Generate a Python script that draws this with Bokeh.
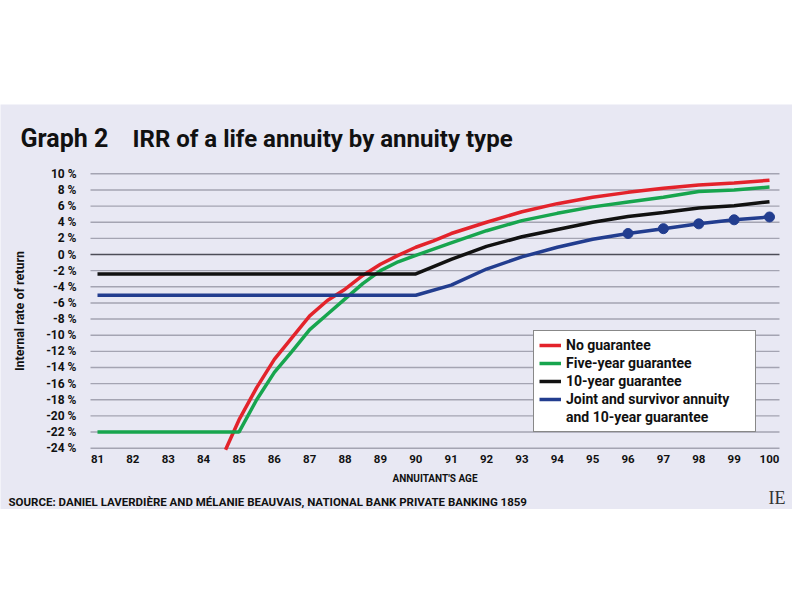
from bokeh.plotting import figure
from bokeh.models import Range1d, FixedTicker, Legend, LegendItem, Label, Spacer, LinearAxis
from bokeh.layouts import column
from bokeh.embed import file_html
from bokeh.resources import INLINE

# ---------------- data ----------------
age_ticks = list(range(81, 101))
pct_ticks = list(range(-24, 11, 2))

ages_red = [84.62, 85, 85.5, 86, 86.5, 87, 87.5, 88, 88.5, 89, 89.5, 90, 90.5,
            91, 92, 93, 94, 95, 96, 97, 98, 99, 100]
irr_red = [-24.2, -20.5, -16.5, -13.0, -10.3, -7.6, -5.7, -4.3, -2.6, -1.2, -0.1, 0.9, 1.7,
           2.6, 4.0, 5.3, 6.3, 7.1, 7.7, 8.2, 8.6, 8.85, 9.2]

ages_green = [81, 85, 85.5, 86, 86.5, 87, 87.5, 88, 88.5, 89, 89.5, 90,
              91, 92, 93, 94, 95, 96, 97, 98, 99, 100]
irr_green = [-22.0, -22.0, -18.0, -14.6, -12.0, -9.3, -7.4, -5.5, -3.6, -2.0, -0.9, -0.1,
             1.45, 2.95, 4.2, 5.1, 5.9, 6.5, 7.1, 7.8, 8.0, 8.35]

ages_black = [81, 90, 91, 92, 93, 94, 95, 96, 97, 98, 99, 100]
irr_black = [-2.4, -2.4, -0.6, 1.0, 2.2, 3.1, 4.0, 4.7, 5.2, 5.75, 6.05, 6.55]

ages_blue = [81, 90, 91, 92, 93, 94, 95, 96, 97, 98, 99, 100]
irr_blue = [-5.05, -5.05, -3.8, -1.8, -0.3, 0.9, 1.9, 2.6, 3.2, 3.8, 4.3, 4.65]
blue_marker_ages = [96, 97, 98, 99, 100]

series_names = ["No guarantee", "Five-year guarantee", "10-year guarantee",
                "Joint and survivor annuity", "and 10-year guarantee"]

title_label = "Graph 2"
title_text = "IRR of a life annuity by annuity type"
x_label = "ANNUITANT'S AGE"
y_label = "Internal rate of return"
source_text = "SOURCE: DANIEL LAVERDIÈRE AND MÉLANIE BEAUVAIS, NATIONAL BANK PRIVATE BANKING 1859"
logo_text = "IE"

# ---------------- style / layout ----------------
BG = "#e8e8f3"
FONT = "Roboto"
INK = "#111111"
RED, GREEN, BLACK, BLUE = "#e3232b", "#17a54e", "#111111", "#223d8f"

W = 792            # panel width (page px)
PANEL_TOP = 104    # panel top on the page
PANEL_BOT = 509    # panel bottom on the page
H = PANEL_BOT - PANEL_TOP

# pixel anchors of the plotting area on the page
PX_81, PX_100 = 97.0, 769.0
PY_10, PY_M24 = 173.3, 447.7
SX = (PX_100 - PX_81) / 19.0
SY = (PY_M24 - PY_10) / 34.0


def px2x(px):
    return 81 + (px - PX_81) / SX


def py2y(py):
    return 10 - (py - PY_10) / SY


PLOT_L, PLOT_R = px2x(90), px2x(779)      # horizontal extent of the plotting area
PLOT_B, PLOT_T = py2y(453), py2y(168)     # vertical extent of the plotting area

p = figure(width=W, height=H,
           x_range=Range1d(px2x(0), px2x(W)), y_range=Range1d(py2y(PANEL_BOT), py2y(PANEL_TOP)),
           output_backend="svg", toolbar_location=None,
           x_axis_type=None, y_axis_type=None, min_border=0,
           background_fill_color=BG, border_fill_color=BG, outline_line_color=None)

# horizontal grid lines over the plotting area
grid_vals = [t for t in pct_ticks if t != 0]
p.segment(x0=[PLOT_L] * len(grid_vals), x1=[PLOT_R] * len(grid_vals), y0=grid_vals, y1=grid_vals,
          line_color="#a4a4b2", line_width=1.4)
p.segment(x0=[PLOT_L], x1=[PLOT_R], y0=[0], y1=[0], line_color="#4d4d57", line_width=1.6)

# axes
xaxis = LinearAxis(fixed_location=PLOT_B, bounds=(PLOT_L, PLOT_R),
                   ticker=FixedTicker(ticks=age_ticks))
yaxis = LinearAxis(fixed_location=PLOT_L, bounds=(PLOT_B, PLOT_T),
                   ticker=FixedTicker(ticks=pct_ticks))
for ax in (xaxis, yaxis):
    ax.axis_line_color = None
    ax.major_tick_line_color = None
    ax.minor_tick_line_color = None
    ax.major_tick_out = 0
    ax.major_tick_in = 0
    ax.minor_tick_out = 0
    ax.minor_tick_in = 0
    ax.major_label_text_font = FONT
    ax.major_label_text_font_style = "bold"
    ax.major_label_text_color = INK
    ax.axis_label_text_font = FONT
    ax.axis_label_text_font_style = "bold"
    ax.axis_label_text_color = INK

xaxis.major_label_text_font_size = "11.5px"
xaxis.major_label_standoff = 1
xaxis.axis_label = x_label
xaxis.axis_label_text_font_size = "10px"
xaxis.axis_label_standoff = 7

yaxis.major_label_overrides = {t: f"{t} %" for t in pct_ticks}
yaxis.major_label_text_font_size = "12px"
yaxis.major_label_standoff = 14
yaxis.axis_label = y_label
yaxis.axis_label_text_font_size = "12.5px"
yaxis.axis_label_standoff = 16

p.add_layout(xaxis, "below")
p.add_layout(yaxis, "left")

# series
r_red = p.line(ages_red, irr_red, line_color=RED, line_width=3.5)
r_green = p.line(ages_green, irr_green, line_color=GREEN, line_width=3.5)
r_black = p.line(ages_black, irr_black, line_color=BLACK, line_width=3.5)
r_blue = p.line(ages_blue, irr_blue, line_color=BLUE, line_width=3.5)
blue_lookup = dict(zip(ages_blue, irr_blue))
p.scatter(blue_marker_ages, [blue_lookup[a] for a in blue_marker_ages],
          size=10, fill_color=BLUE, line_color=BLUE)
r_cont = p.line([], [], line_alpha=0)

legend = Legend(items=[
    LegendItem(label=series_names[0], renderers=[r_red]),
    LegendItem(label=series_names[1], renderers=[r_green]),
    LegendItem(label=series_names[2], renderers=[r_black]),
    LegendItem(label=series_names[3], renderers=[r_blue]),
    LegendItem(label=series_names[4], renderers=[r_cont]),
], location=(533, PANEL_BOT - 432))
legend.label_text_font = FONT
legend.label_text_font_style = "bold"
legend.label_text_font_size = "14px"
legend.label_text_color = INK
legend.label_height = 18
legend.glyph_height = 18
legend.glyph_width = 22
legend.label_width = 184
legend.label_standoff = 5
legend.spacing = 0
legend.padding = 5
legend.margin = 0
legend.border_line_color = INK
legend.border_line_width = 1.5
legend.background_fill_color = "white"
legend.background_fill_alpha = 1
p.add_layout(legend, "center")

# title, source and logo
p.add_layout(Label(x=px2x(20), y=py2y(138), text=title_label,
                   text_font=FONT, text_font_style="bold", text_font_size="25px",
                   text_color=INK, text_baseline="alphabetic"))
p.add_layout(Label(x=px2x(132), y=py2y(138), text=title_text,
                   text_font=FONT, text_font_style="bold", text_font_size="24px",
                   text_color=INK, text_baseline="alphabetic"))
p.add_layout(Label(x=px2x(8), y=py2y(501), text=source_text,
                   text_font=FONT, text_font_style="bold", text_font_size="11.5px",
                   text_color=INK, text_baseline="alphabetic"))
p.add_layout(Label(x=px2x(768), y=py2y(497), text=logo_text,
                   text_font="Liberation Serif", text_font_size="18px",
                   text_color="#333333", text_baseline="alphabetic", text_align="left"))

layout = column(Spacer(width=W, height=PANEL_TOP), p)
open("out.html", "w").write(file_html(layout, INLINE))
